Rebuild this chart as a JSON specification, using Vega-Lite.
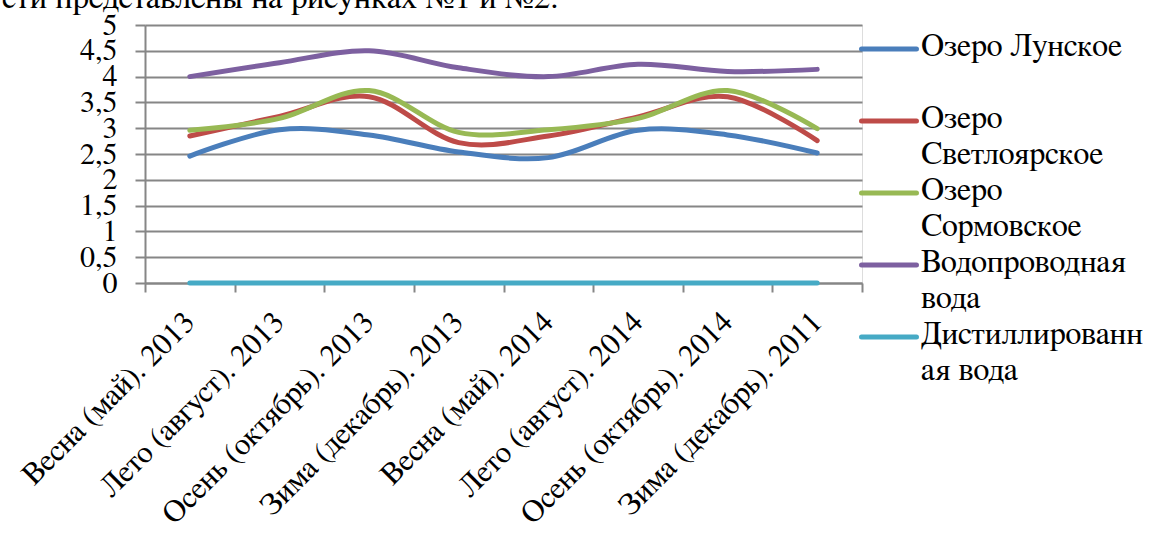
{
  "$schema": "https://vega.github.io/schema/vega-lite/v6.json",
  "width": 717,
  "height": 258,
  "autosize": {"type": "none"},
  "padding": {"left": 145, "top": 25, "right": 299, "bottom": 257},
  "background": "white",
  "title": {
    "text": "сти представлены на рисунках №1 и №2.",
    "anchor": "start",
    "frame": "group",
    "orient": "top",
    "font": "FreeSerif, Tinos, Liberation Serif, DejaVu Serif, serif",
    "fontSize": 33,
    "fontWeight": "normal",
    "color": "#000000",
    "baseline": "alphabetic",
    "offset": 0,
    "dx": -143,
    "dy": 31
  },
  "data": {
    "values": [
      {"season": "Весна (май). 2013", "series": "Озеро Лунское", "value": 2.46},
      {"season": "Лето (август). 2013", "series": "Озеро Лунское", "value": 2.97},
      {"season": "Осень (октябрь). 2013", "series": "Озеро Лунское", "value": 2.87},
      {"season": "Зима (декабрь). 2013", "series": "Озеро Лунское", "value": 2.54},
      {"season": "Весна (май). 2014", "series": "Озеро Лунское", "value": 2.43},
      {"season": "Лето (август). 2014", "series": "Озеро Лунское", "value": 2.96},
      {"season": "Осень (октябрь). 2014", "series": "Озеро Лунское", "value": 2.87},
      {"season": "Зима (декабрь). 2011", "series": "Озеро Лунское", "value": 2.52},
      {"season": "Весна (май). 2013", "series": "Озеро Светлоярское", "value": 2.85},
      {"season": "Лето (август). 2013", "series": "Озеро Светлоярское", "value": 3.23},
      {"season": "Осень (октябрь). 2013", "series": "Озеро Светлоярское", "value": 3.61},
      {"season": "Зима (декабрь). 2013", "series": "Озеро Светлоярское", "value": 2.72},
      {"season": "Весна (май). 2014", "series": "Озеро Светлоярское", "value": 2.85},
      {"season": "Лето (август). 2014", "series": "Озеро Светлоярское", "value": 3.22},
      {"season": "Осень (октябрь). 2014", "series": "Озеро Светлоярское", "value": 3.61},
      {"season": "Зима (декабрь). 2011", "series": "Озеро Светлоярское", "value": 2.76},
      {"season": "Весна (май). 2013", "series": "Озеро Сормовское", "value": 2.96},
      {"season": "Лето (август). 2013", "series": "Озеро Сормовское", "value": 3.19},
      {"season": "Осень (октябрь). 2013", "series": "Озеро Сормовское", "value": 3.73},
      {"season": "Зима (декабрь). 2013", "series": "Озеро Сормовское", "value": 2.92},
      {"season": "Весна (май). 2014", "series": "Озеро Сормовское", "value": 2.97},
      {"season": "Лето (август). 2014", "series": "Озеро Сормовское", "value": 3.19},
      {"season": "Осень (октябрь). 2014", "series": "Озеро Сормовское", "value": 3.73},
      {"season": "Зима (декабрь). 2011", "series": "Озеро Сормовское", "value": 2.99},
      {"season": "Весна (май). 2013", "series": "Водопроводная вода", "value": 4.0},
      {"season": "Лето (август). 2013", "series": "Водопроводная вода", "value": 4.27},
      {"season": "Осень (октябрь). 2013", "series": "Водопроводная вода", "value": 4.5},
      {"season": "Зима (декабрь). 2013", "series": "Водопроводная вода", "value": 4.17},
      {"season": "Весна (май). 2014", "series": "Водопроводная вода", "value": 4.0},
      {"season": "Лето (август). 2014", "series": "Водопроводная вода", "value": 4.24},
      {"season": "Осень (октябрь). 2014", "series": "Водопроводная вода", "value": 4.1},
      {"season": "Зима (декабрь). 2011", "series": "Водопроводная вода", "value": 4.14},
      {"season": "Весна (май). 2013", "series": "Дистиллированная вода", "value": 0},
      {"season": "Лето (август). 2013", "series": "Дистиллированная вода", "value": 0},
      {"season": "Осень (октябрь). 2013", "series": "Дистиллированная вода", "value": 0},
      {"season": "Зима (декабрь). 2013", "series": "Дистиллированная вода", "value": 0},
      {"season": "Весна (май). 2014", "series": "Дистиллированная вода", "value": 0},
      {"season": "Лето (август). 2014", "series": "Дистиллированная вода", "value": 0},
      {"season": "Осень (октябрь). 2014", "series": "Дистиллированная вода", "value": 0},
      {"season": "Зима (декабрь). 2011", "series": "Дистиллированная вода", "value": 0}
    ]
  },
  "mark": {"type": "line", "interpolate": "cardinal", "strokeWidth": 5, "strokeCap": "round"},
  "encoding": {
    "x": {
      "field": "season",
      "type": "nominal",
      "sort": null,
      "scale": {"type": "band", "paddingInner": 0, "paddingOuter": 0},
      "axis": {
        "title": null,
        "tickBand": "extent",
        "labelAngle": -45,
        "labelAlign": "right",
        "labelBaseline": "middle",
        "labelFont": "FreeSerif, Tinos, Liberation Serif, DejaVu Serif, serif",
        "labelFontSize": 31,
        "labelColor": "#000000",
        "labelPadding": 25,
        "labelLimit": 400,
        "labelOverlap": false,
        "tickSize": 9,
        "tickWidth": 2,
        "tickColor": "#868686",
        "domainColor": "#868686",
        "domainWidth": 2,
        "grid": false
      }
    },
    "y": {
      "field": "value",
      "type": "quantitative",
      "scale": {"domain": [0, 5], "nice": false},
      "axis": {
        "title": null,
        "values": [0, 0.5, 1, 1.5, 2, 2.5, 3, 3.5, 4, 4.5, 5],
        "labelExpr": "replace(toString(datum.value), '.', ',')",
        "labelFont": "FreeSerif, Tinos, Liberation Serif, DejaVu Serif, serif",
        "labelFontSize": 30,
        "labelColor": "#000000",
        "labelPadding": 18,
        "labelOverlap": false,
        "labelFlush": false,
        "tickSize": 10,
        "tickWidth": 2,
        "tickColor": "#868686",
        "domainColor": "#868686",
        "domainWidth": 2,
        "grid": true,
        "gridColor": "#868686",
        "gridWidth": 2
      }
    },
    "color": {
      "field": "series",
      "type": "nominal",
      "sort": ["Озеро Лунское", "Озеро Светлоярское", "Озеро Сормовское", "Водопроводная вода", "Дистиллированная вода"],
      "scale": {
        "domain": ["Озеро Лунское", "Озеро Светлоярское", "Озеро Сормовское", "Водопроводная вода", "Дистиллированная вода"],
        "range": ["#4A7EBB", "#BE4B48", "#98B954", "#7D60A0", "#46AAC5"]
      },
      "legend": {
        "title": null,
        "orient": "none",
        "legendX": 728,
        "legendY": 8,
        "symbolType": "M-4,0H4",
        "symbolSize": 189,
        "symbolStrokeWidth": 5,
        "labelFont": "FreeSerif, Tinos, Liberation Serif, DejaVu Serif, serif",
        "labelFontSize": 32,
        "labelColor": "#000000",
        "labelLimit": 400,
        "labelOffset": 16,
        "labelBaseline": "top",
        "rowPadding": 4,
        "labelExpr": "datum.value == 'Озеро Лунское' ? ['Озеро Лунское', ' '] : datum.value == 'Озеро Светлоярское' ? ['Озеро', 'Светлоярское'] : datum.value == 'Озеро Сормовское' ? ['Озеро', 'Сормовское'] : datum.value == 'Водопроводная вода' ? ['Водопроводная', 'вода'] : ['Дистиллированн', 'ая вода']",
        "encode": {
          "labels": {"update": {"lineHeight": {"value": 36}, "dy": {"value": -18}, "font": {"value": "FreeSerif"}}},
          "symbols": {"update": {"strokeCap": {"value": "round"}}}
        }
      }
    }
  }
}
